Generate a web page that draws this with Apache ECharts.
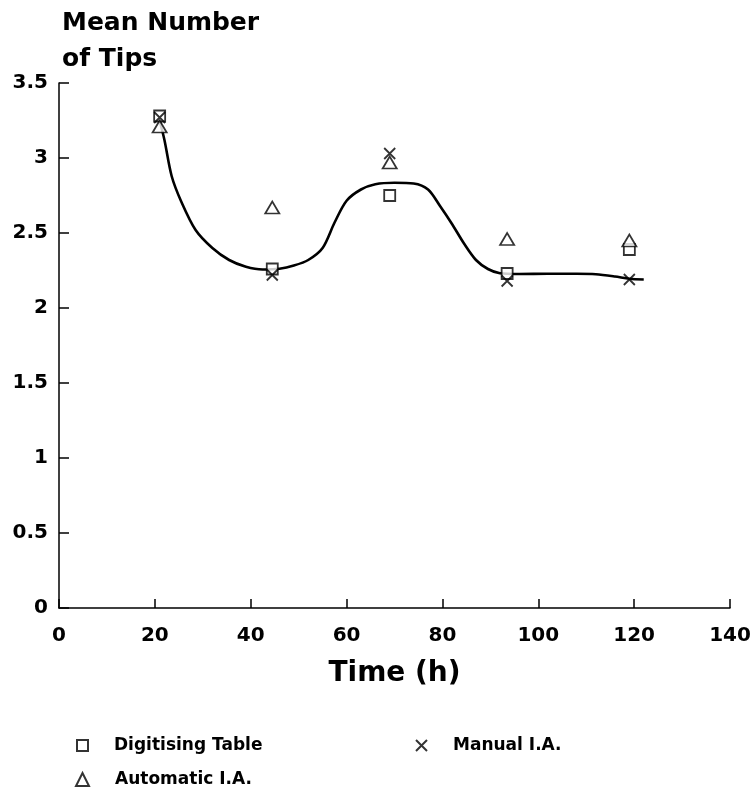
<!DOCTYPE html>
<html>
<head>
<meta charset="utf-8">
<script src="https://cdn.jsdelivr.net/npm/echarts@6/dist/echarts.min.js"></script>
<style>
html,body{margin:0;padding:0;background:#fff;}
#chart{width:754px;height:793px;}
</style>
</head>
<body>
<div id="chart"></div>
<script>
// Data
var times = [21, 44.5, 69, 93.5, 119];
var digitisingTable = [3.28, 2.26, 2.75, 2.23, 2.39];
var manualIA = [3.27, 2.22, 3.03, 2.18, 2.19];
var automaticIA = [3.21, 2.67, 2.97, 2.46, 2.45];
// fitted curve, sampled along the drawn line
var curveX = [21, 22, 23.5, 25.5, 28.5, 32, 35.5, 39, 42.5, 46, 49, 52, 55, 57.5, 60, 63, 66, 70, 74, 77, 79.5, 82, 84.5, 87, 89.5, 92, 96, 102, 108, 112, 116, 119, 122];
var curveY = [3.25, 3.12, 2.88, 2.71, 2.52, 2.40, 2.32, 2.275, 2.257, 2.262, 2.283, 2.32, 2.40, 2.57, 2.715, 2.79, 2.825, 2.835, 2.83, 2.79, 2.68, 2.56, 2.43, 2.32, 2.26, 2.232, 2.227, 2.228, 2.228, 2.225, 2.21, 2.195, 2.19];
var xTicks = [0, 20, 40, 60, 80, 100, 120, 140];
var yTicks = [0, 0.5, 1, 1.5, 2, 2.5, 3, 3.5];
var seriesNames = ['Digitising Table', 'Manual I.A.', 'Automatic I.A.'];

function pairs(xs, ys) { return xs.map(function (x, i) { return [x, ys[i]]; }); }

var FONT = '"DejaVu Sans", sans-serif';
var chart = echarts.init(document.getElementById('chart'), null, {renderer: 'canvas'});
var crossPath = 'path://M0,0L10,10M0,10L10,0';

function legendItem(name, left, top, size) {
  return {
    data: [name], left: left, top: top, orient: 'horizontal',
    itemWidth: size, itemHeight: size, selectedMode: false,
    textStyle: {fontFamily: FONT, fontWeight: 'bold', fontSize: 17, color: '#000', padding: [0, 0, 0, 21]}
  };
}

var markerStyle = {color: '#fff', borderColor: '#000', borderWidth: 1.8};

chart.setOption({
  backgroundColor: '#fff',
  animation: false,
  title: {
    text: 'Mean Number\nof Tips', left: 57, top: 0,
    textStyle: {fontFamily: FONT, fontWeight: 'bold', fontSize: 25, lineHeight: 36, color: '#000'}
  },
  grid: {left: 59, right: 24, top: 83, bottom: 185, containLabel: false},
  legend: [
    legendItem(seriesNames[0], 71, 732, 11),
    legendItem(seriesNames[1], 410, 732, 11),
    legendItem(seriesNames[2], 70, 766, 13)
  ],
  xAxis: {
    type: 'value', min: xTicks[0], max: xTicks[xTicks.length - 1], interval: 20,
    name: 'Time (h)', nameLocation: 'middle', nameGap: 52,
    nameTextStyle: {fontFamily: FONT, fontWeight: 'bold', fontSize: 28, color: '#000'},
    axisLine: {lineStyle: {color: '#000', width: 1.5}},
    axisTick: {inside: true, length: 9, lineStyle: {color: '#000', width: 1.5}},
    axisLabel: {margin: 18, fontFamily: FONT, fontWeight: 'bold', fontSize: 20, color: '#000'},
    splitLine: {show: false}
  },
  yAxis: {
    type: 'value', min: yTicks[0], max: yTicks[yTicks.length - 1], interval: 0.5,
    axisLine: {show: true, lineStyle: {color: '#000', width: 1.5}},
    axisTick: {show: true, inside: true, length: 10, lineStyle: {color: '#000', width: 1.5}},
    axisLabel: {margin: 11, fontFamily: FONT, fontWeight: 'bold', fontSize: 20, color: '#000'},
    splitLine: {show: false}
  },
  series: [
    {
      name: 'curve', type: 'line', data: pairs(curveX, curveY), smooth: 0.3,
      showSymbol: false, symbol: 'none', lineStyle: {color: '#000', width: 2.6}, z: 1
    },
    {
      name: seriesNames[0], type: 'scatter', data: pairs(times, digitisingTable),
      symbol: 'rect', symbolSize: 11, itemStyle: markerStyle, z: 3
    },
    {
      name: seriesNames[2], type: 'scatter', data: pairs(times, automaticIA),
      symbol: 'triangle', symbolSize: [14, 12], itemStyle: markerStyle, z: 4
    },
    {
      name: seriesNames[1], type: 'scatter', data: pairs(times, manualIA),
      symbol: crossPath, symbolSize: 11,
      itemStyle: {color: '#000', borderColor: '#000', borderWidth: 1.8}, z: 5
    }
  ]
});
</script>
</body>
</html>
